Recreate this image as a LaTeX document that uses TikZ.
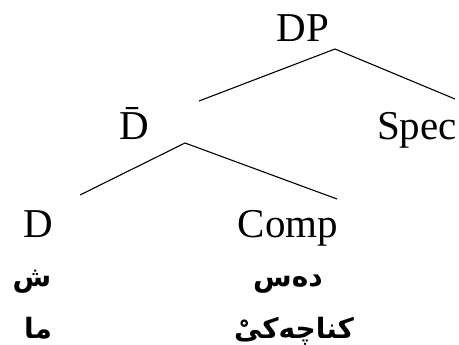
\documentclass[tikz,border=0pt]{standalone}
\usepackage{fontspec}
\setmainfont{Liberation Serif}
\newfontfamily\arabicfont[Script=Arabic]{DejaVu Sans}
\TeXXeTstate=1
\begin{document}
\begin{tikzpicture}[x=1pt,y=-1pt,
  lab/.style={font=\fontsize{41}{48}\selectfont, inner sep=0pt, anchor=base},
  ar/.style={font=\arabicfont\bfseries\fontsize{28}{34}\selectfont, inner sep=0pt, anchor=base},
  br/.style={line width=1.1pt}]
\useasboundingbox (0,0) rectangle (459,345);
\node[lab] (DP) at (303,42) {DP};
\node[lab] (Dbar) at (134,140) {\={D}};
\node[lab] (Spec) at (417,140) {Spec};
\node[lab] (D) at (38,238) {D};
\node[lab] (Comp) at (288,238) {Comp};
\node[ar] (w1) at (32,287) {\beginR ش\endR};
\node[ar] (w2) at (38,338) {\beginR ما\endR};
\node[ar] (w3) at (288,287) {\beginR دەس\endR};
\node[ar] (w4) at (294,338) {\beginR کناچەکیْ\endR};
\coordinate (dpA) at (335,49);
\coordinate (dpL) at (199,101);
\coordinate (dpR) at (455,99);
\coordinate (dbA) at (185,143);
\coordinate (dbL) at (80,195);
\coordinate (dbR) at (337,199);
\draw[br] (dpL) -- (dpA) -- (dpR);
\draw[br] (dbL) -- (dbA) -- (dbR);
\end{tikzpicture}
\end{document}
